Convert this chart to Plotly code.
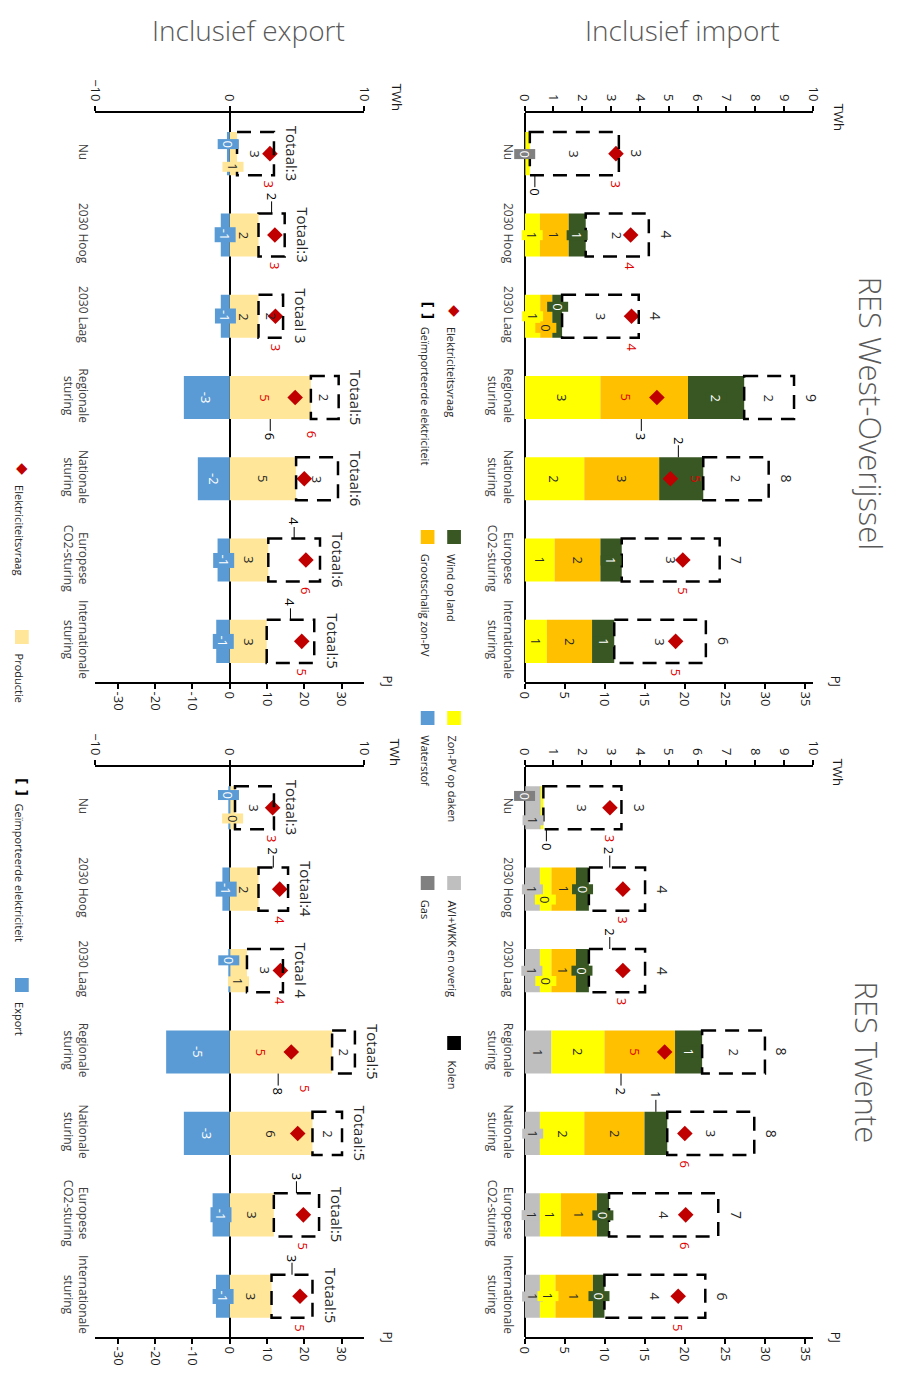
import plotly.graph_objects as go

W, H = 901, 1380
OFF = 8  # page body margin of the browser
FONT = "Open Sans"

cats = ["Nu", "2030 Hoog", "2030 Laag", "Regionale<br>sturing", "Nationale<br>sturing",
        "Europese<br>CO2-sturing", "Internationale<br>sturing"]

# ---------------- data (TWh) ----------------
# RES West-Overijssel, inclusief import
wo_gas = [0.03, 0, 0, 0, 0, 0, 0]
wo_avi = [0, 0, 0, 0, 0, 0, 0]
wo_zon_dak = [0.15, 0.53, 0.54, 2.63, 2.07, 1.04, 0.77]
wo_groot = [0, 1.00, 0.42, 3.04, 2.60, 1.59, 1.57]
wo_wind = [0, 0.59, 0.34, 1.95, 1.53, 0.74, 0.77]
wo_import = [3.09, 2.19, 2.66, 1.73, 2.27, 3.40, 3.18]
wo_vraag = [3.17, 3.68, 3.71, 4.59, 5.06, 5.49, 5.24]

# RES Twente, inclusief import
tw_gas = [0.03, 0, 0, 0, 0, 0, 0]
tw_avi = [0.53, 0.53, 0.53, 0.93, 0.53, 0.53, 0.53]
tw_zon_dak = [0.09, 0.40, 0.40, 1.84, 1.54, 0.73, 0.54]
tw_groot = [0, 0.85, 0.85, 2.45, 2.09, 1.25, 1.30]
tw_wind = [0, 0.45, 0.45, 0.94, 0.79, 0.42, 0.40]
tw_import = [2.71, 1.95, 1.95, 2.18, 3.02, 3.79, 3.50]
tw_vraag = [2.96, 3.41, 3.41, 4.86, 5.56, 5.59, 5.33]

# RES West-Overijssel, inclusief export
woe_prod = [0.55, 2.15, 2.15, 6.05, 4.95, 2.88, 2.76]
woe_export = [-0.20, -0.66, -0.66, -3.41, -2.37, -0.90, -1.00]
woe_import = [2.75, 1.95, 1.83, 2.07, 3.12, 3.85, 3.54]
woe_vraag = [3.00, 3.37, 3.41, 4.88, 5.56, 5.68, 5.37]
woe_totaal_sep = [":", ":", " ", ":", ":", ":", ":"]

# RES Twente, inclusief export
twe_prod = [0.40, 2.15, 1.29, 7.63, 6.17, 3.29, 3.12]
twe_export = [-0.10, -0.54, -0.10, -4.73, -3.41, -1.27, -1.02]
twe_import = [2.90, 2.20, 2.68, 1.70, 2.20, 3.37, 3.05]
twe_vraag = [3.20, 3.73, 3.78, 4.59, 5.07, 5.49, 5.24]
twe_totaal_sep = [":", ":", " ", ":", ":", ":", ":"]

TWH_TO_PJ = 3.6

# ---------------- styles ----------------
C_GAS = "#808080"
C_AVI = "#BFBFBF"
C_ZON = "#FFFF00"
C_GROOT = "#FFC000"
C_WIND = "#385723"
C_PROD = "#FFE699"
C_EXP = "#5B9BD5"
C_KOLEN = "#000000"
C_VRAAG = "#C00000"
C_VRAAG_TXT = "#E00000"
BARW = 0.53
HALF = BARW / 2

fig = go.Figure()
ann = []
shp = []


def fmt(v):
    s = f"{v:.0f}"
    return "0" if s == "-0" else s


def pxx(p):
    return (p - OFF) / W


def pxy(p):
    return 1 - (p - OFF) / H


panels = {
    "wo_imp": dict(x="x", xpj="x2", y="y", dx=(527, 821), dy=(113, 682), rng=(0, 10),
                   tw=list(range(0, 11)), pj=list(range(0, 36, 5)), lstand=8),
    "tw_imp": dict(x="x3", xpj="x4", y="y2", dx=(527, 821), dy=(767, 1337), rng=(0, 10),
                   tw=list(range(0, 11)), pj=list(range(0, 36, 5)), lstand=8),
    "wo_exp": dict(x="x5", xpj="x6", y="y3", dx=(89, 363), dy=(113, 682), rng=(-10, 10),
                   tw=[-10, 0, 10], pj=list(range(-30, 31, 10)), lstand=3),
    "tw_exp": dict(x="x7", xpj="x8", y="y4", dx=(89, 363), dy=(767, 1337), rng=(-10, 10),
                   tw=[-10, 0, 10], pj=list(range(-30, 31, 10)), lstand=3),
}


def akey(a):
    return a[0] + "axis" + a[1:]


layout_axes = {}
for p in panels.values():
    xd = [pxx(p["dx"][0]), pxx(p["dx"][1])]
    yd = [pxy(p["dy"][1]), pxy(p["dy"][0])]
    common = dict(showgrid=False, showline=True, linecolor="black", linewidth=2,
                  ticks="outside", ticklen=5, tickwidth=2, tickcolor="black",
                  tickangle=90, tickfont=dict(family=FONT, size=13, color="#1a1a1a"),
                  showticklabels=True, fixedrange=True)
    layout_axes[akey(p["x"])] = dict(domain=xd, range=list(p["rng"]), side="top", anchor=p["y"],
                                     tickmode="array", tickvals=p["tw"], zeroline=True,
                                     zerolinecolor="black", zerolinewidth=2, **common)
    layout_axes[akey(p["xpj"])] = dict(domain=xd, range=[p["rng"][0] * TWH_TO_PJ, p["rng"][1] * TWH_TO_PJ],
                                       side="bottom", anchor=p["y"], overlaying=p["x"],
                                       tickmode="array", tickvals=p["pj"],
                                       ticktext=[str(v) for v in p["pj"]], zeroline=False, **common)
    layout_axes[akey(p["y"])] = dict(domain=yd, anchor=p["x"], type="category", categoryarray=cats,
                                     range=[len(cats) - 0.5, -0.5], showline=False, ticks="",
                                     showgrid=False, zeroline=False, tickangle=90,
                                     ticklabelstandoff=p["lstand"],
                                     tickfont=dict(family=FONT, size=12, color="#404040"),
                                     fixedrange=True)
    # empty trace so that the PJ axis gets its own subplot and draws its labels
    fig.add_trace(go.Scatter(x=[], y=[], xaxis=p["xpj"], yaxis=p["y"], mode="markers",
                             showlegend=False, hoverinfo="skip"))


def seg_label(p, x, y, text, color, bg, size=13):
    ann.append(dict(x=x, y=y, xref=p["x"], yref=p["y"], text=text, showarrow=False,
                    textangle=90, font=dict(family=FONT, size=size, color=color),
                    bgcolor=bg, borderpad=1))


def leader_label(p, x, y_edge, text, color, below):
    ann.append(dict(x=x, y=y_edge, xref=p["x"], yref=p["y"], text=text, showarrow=True,
                    arrowhead=0, arrowwidth=1, arrowcolor="black", ax=0, ay=17 if below else -17,
                    standoff=0, textangle=90, font=dict(family=FONT, size=13, color=color)))


def draw_panel(pname, series, imp, vraag, special, red_special, total_prefix=None, total_sep=None):
    p = panels[pname]
    n = len(cats)
    pos_base = [0.0] * n
    neg_base = [0.0] * n
    for key, vals, color, tcol in series:
        fig.add_trace(go.Bar(x=vals, y=cats, orientation="h", width=BARW,
                             marker=dict(color=color, line=dict(width=0)),
                             xaxis=p["x"], yaxis=p["y"], showlegend=False, hoverinfo="skip"))
        for i, v in enumerate(vals):
            if v == 0:
                continue
            if v > 0:
                xc = pos_base[i] + v / 2
                pos_base[i] += v
            else:
                xc = neg_base[i] + v / 2
                neg_base[i] += v
            sp = special.get((key, i))
            if sp is None:
                seg_label(p, xc, i, fmt(v), tcol, color)
            elif sp[0] == "dy":
                seg_label(p, xc, i + sp[1], fmt(v), tcol, color)
            elif sp[0] == "below":
                leader_label(p, xc + sp[1], i + HALF, fmt(v), "black", True)
            elif sp[0] == "above":
                leader_label(p, xc + sp[1], i - HALF, fmt(v), "black", False)
    # imported electricity (dashed box)
    for i, v in enumerate(imp):
        x0 = pos_base[i]
        x1 = x0 + v
        shp.append(dict(type="rect", xref=p["x"], yref=p["y"], x0=x0, x1=x1, y0=i - HALF, y1=i + HALF,
                        line=dict(color="black", width=2.5, dash="14px,9px"), fillcolor="rgba(0,0,0,0)",
                        layer="above"))
        sp = special.get(("import", i))
        if sp is None:
            seg_label(p, (x0 + x1) / 2, i, fmt(v), "#262626", None)
        elif sp[0] == "above":
            leader_label(p, (x0 + x1) / 2 + sp[1], i - HALF, fmt(v), "black", False)
        total = pos_base[i] + v + neg_base[i]
        if total_prefix is None:
            txt, size = fmt(total), 14
        else:
            txt, size = total_prefix + total_sep[i] + fmt(total), 15
        ann.append(dict(x=x1, y=i, xref=p["x"], yref=p["y"], text=txt, showarrow=False,
                        textangle=90, xanchor="left", yanchor="middle", xshift=6,
                        font=dict(family=FONT, size=size, color="#262626")))
    # electricity demand
    fig.add_trace(go.Scatter(x=vraag, y=cats, mode="markers", xaxis=p["x"], yaxis=p["y"],
                             marker=dict(symbol="diamond", size=12, color=C_VRAAG),
                             showlegend=False, hoverinfo="skip"))
    for i, v in enumerate(vraag):
        rs = red_special.get(i, ("below",))
        if rs[0] == "below":
            y, xs = i + 0.38, 0
        elif rs[0] == "side":
            y, xs = i, rs[1]
        else:  # displaced above the bar
            y, xs = i - 0.55, rs[1]
        ann.append(dict(x=v, y=y, xref=p["x"], yref=p["y"], text=fmt(v), showarrow=False,
                        textangle=90, xshift=xs, font=dict(family=FONT, size=13, color=C_VRAAG_TXT)))


# ---------- West-Overijssel import ----------
draw_panel("wo_imp",
           [("gas", wo_gas, C_GAS, "white"), ("avi", wo_avi, C_AVI, "#262626"),
            ("zon", wo_zon_dak, C_ZON, "#262626"), ("groot", wo_groot, C_GROOT, "#262626"),
            ("wind", wo_wind, C_WIND, "white")],
           wo_import, wo_vraag,
           {("zon", 0): ("below", 0.25), ("groot", 2): ("dy", 0.14), ("wind", 2): ("dy", -0.12),
            ("groot", 3): ("below", -0.1), ("wind", 4): ("above", -0.1)},
           {3: ("side", -30), 4: ("side", 26)})

# ---------- Twente import ----------
draw_panel("tw_imp",
           [("gas", tw_gas, C_GAS, "white"), ("avi", tw_avi, C_AVI, "#262626"),
            ("zon", tw_zon_dak, C_ZON, "#262626"), ("groot", tw_groot, C_GROOT, "#262626"),
            ("wind", tw_wind, C_WIND, "white")],
           tw_import, tw_vraag,
           {("gas", 0): ("dy", -0.15), ("avi", 0): ("dy", 0.15), ("zon", 0): ("below", 0.15),
            ("zon", 1): ("dy", 0.13), ("zon", 2): ("dy", 0.13),
            ("import", 1): ("above", -0.25), ("import", 2): ("above", -0.25),
            ("groot", 3): ("below", -0.65), ("wind", 4): ("above", 0)},
           {3: ("side", -30)})

# ---------- West-Overijssel export ----------
draw_panel("wo_exp",
           [("prod", woe_prod, C_PROD, "#262626"), ("export", woe_export, C_EXP, "white")],
           woe_import, woe_vraag,
           {("export", 0): ("dy", -0.12), ("prod", 0): ("dy", 0.16),
            ("import", 1): ("above", 0), ("prod", 3): ("below", 0),
            ("import", 5): ("above", 0), ("import", 6): ("above", 0)},
           {3: ("side", -30), 4: ("top", 8)}, "Totaal", woe_totaal_sep)

# ---------- Twente export ----------
draw_panel("tw_exp",
           [("prod", twe_prod, C_PROD, "#262626"), ("export", twe_export, C_EXP, "white")],
           twe_import, twe_vraag,
           {("export", 0): ("dy", -0.15), ("prod", 0): ("dy", 0.13),
            ("export", 2): ("dy", -0.12), ("prod", 2): ("dy", 0.13),
            ("import", 1): ("above", 0), ("prod", 3): ("below", -0.2),
            ("import", 5): ("above", 0), ("import", 6): ("above", 0)},
           {3: ("side", -30), 4: ("top", 8)}, "Totaal", twe_totaal_sep)


def paper_text(xx, yy, text, size, color, angle=0, family=FONT, xa="center", ya="middle", weight=None):
    f = dict(family=family, size=size, color=color)
    if weight:
        f["weight"] = weight
    ann.append(dict(x=pxx(xx), y=pxy(yy), xref="paper", yref="paper", text=text, showarrow=False,
                    textangle=angle, xanchor=xa, yanchor=ya, font=f))


# ---------- titles ----------
TCOL = "#595959"
paper_text(688, 30, "Inclusief import", 28, TCOL, weight=300)
paper_text(245, 30, "Inclusief export", 28, TCOL, weight=300)
paper_text(880, 413, "RES West-Overijssel", 31, TCOL, 90, weight=300)
paper_text(876, 1062, "RES Twente", 31, TCOL, 90, weight=300)

# axis unit labels
for (xx, yy, t) in [(848, 117, "TWh"), (845, 681, "PJ"), (847, 772, "TWh"), (845, 1337, "PJ"),
                    (397, 97, "TWh"), (388, 681, "PJ"), (395, 752, "TWh"), (388, 1337, "PJ")]:
    paper_text(xx, yy, t, 13, "#1a1a1a", 90)

# ---------- legends ----------
legend_items = [
    (455, 310, "diamond", C_VRAAG, "Elektriciteitsvraag"),
    (428, 310, "bracket", None, "Geïmporteerde elektriciteit"),
    (455, 537, "square", C_WIND, "Wind op land"),
    (428, 537, "square", C_GROOT, "Grootschalig zon-PV"),
    (455, 718, "square", C_ZON, "Zon-PV op daken"),
    (428, 718, "square", C_EXP, "Waterstof"),
    (455, 883, "square", C_AVI, "AVI+WKK en overig"),
    (428, 883, "square", C_GAS, "Gas"),
    (455, 1043, "square", C_KOLEN, "Kolen"),
    (14, 468, "diamond", C_VRAAG, "Elektriciteitsvraag"),
    (14, 637, "square", C_PROD, "Productie"),
    (14, 787, "bracket", None, "Geïmporteerde elektriciteit"),
    (14, 985, "square", C_EXP, "Export"),
]
for (xx, yy, kind, col, txt) in legend_items:
    if kind == "square":
        shp.append(dict(type="rect", xref="paper", yref="paper", x0=pxx(xx - 7), x1=pxx(xx + 7),
                        y0=pxy(yy + 7), y1=pxy(yy - 7), fillcolor=col, line=dict(width=0)))
    elif kind == "diamond":
        paper_text(xx, yy, "◆", 15, col, 0, "DejaVu Sans")
    else:
        paper_text(xx, yy, "<b>[ ]</b>", 14, "black", 90, "DejaVu Sans")
    paper_text(xx - 2, yy + 15, txt, 11, "#262626", 90, FONT, "center", "top")

fig.update_layout(
    width=W, height=H, autosize=False,
    margin=dict(l=0, r=0, t=0, b=0),
    paper_bgcolor="white", plot_bgcolor="white",
    barmode="relative", bargap=0.4,
    font=dict(family=FONT),
    annotations=ann, shapes=shp,
    **layout_axes,
)

fig.write_html("out.html")
